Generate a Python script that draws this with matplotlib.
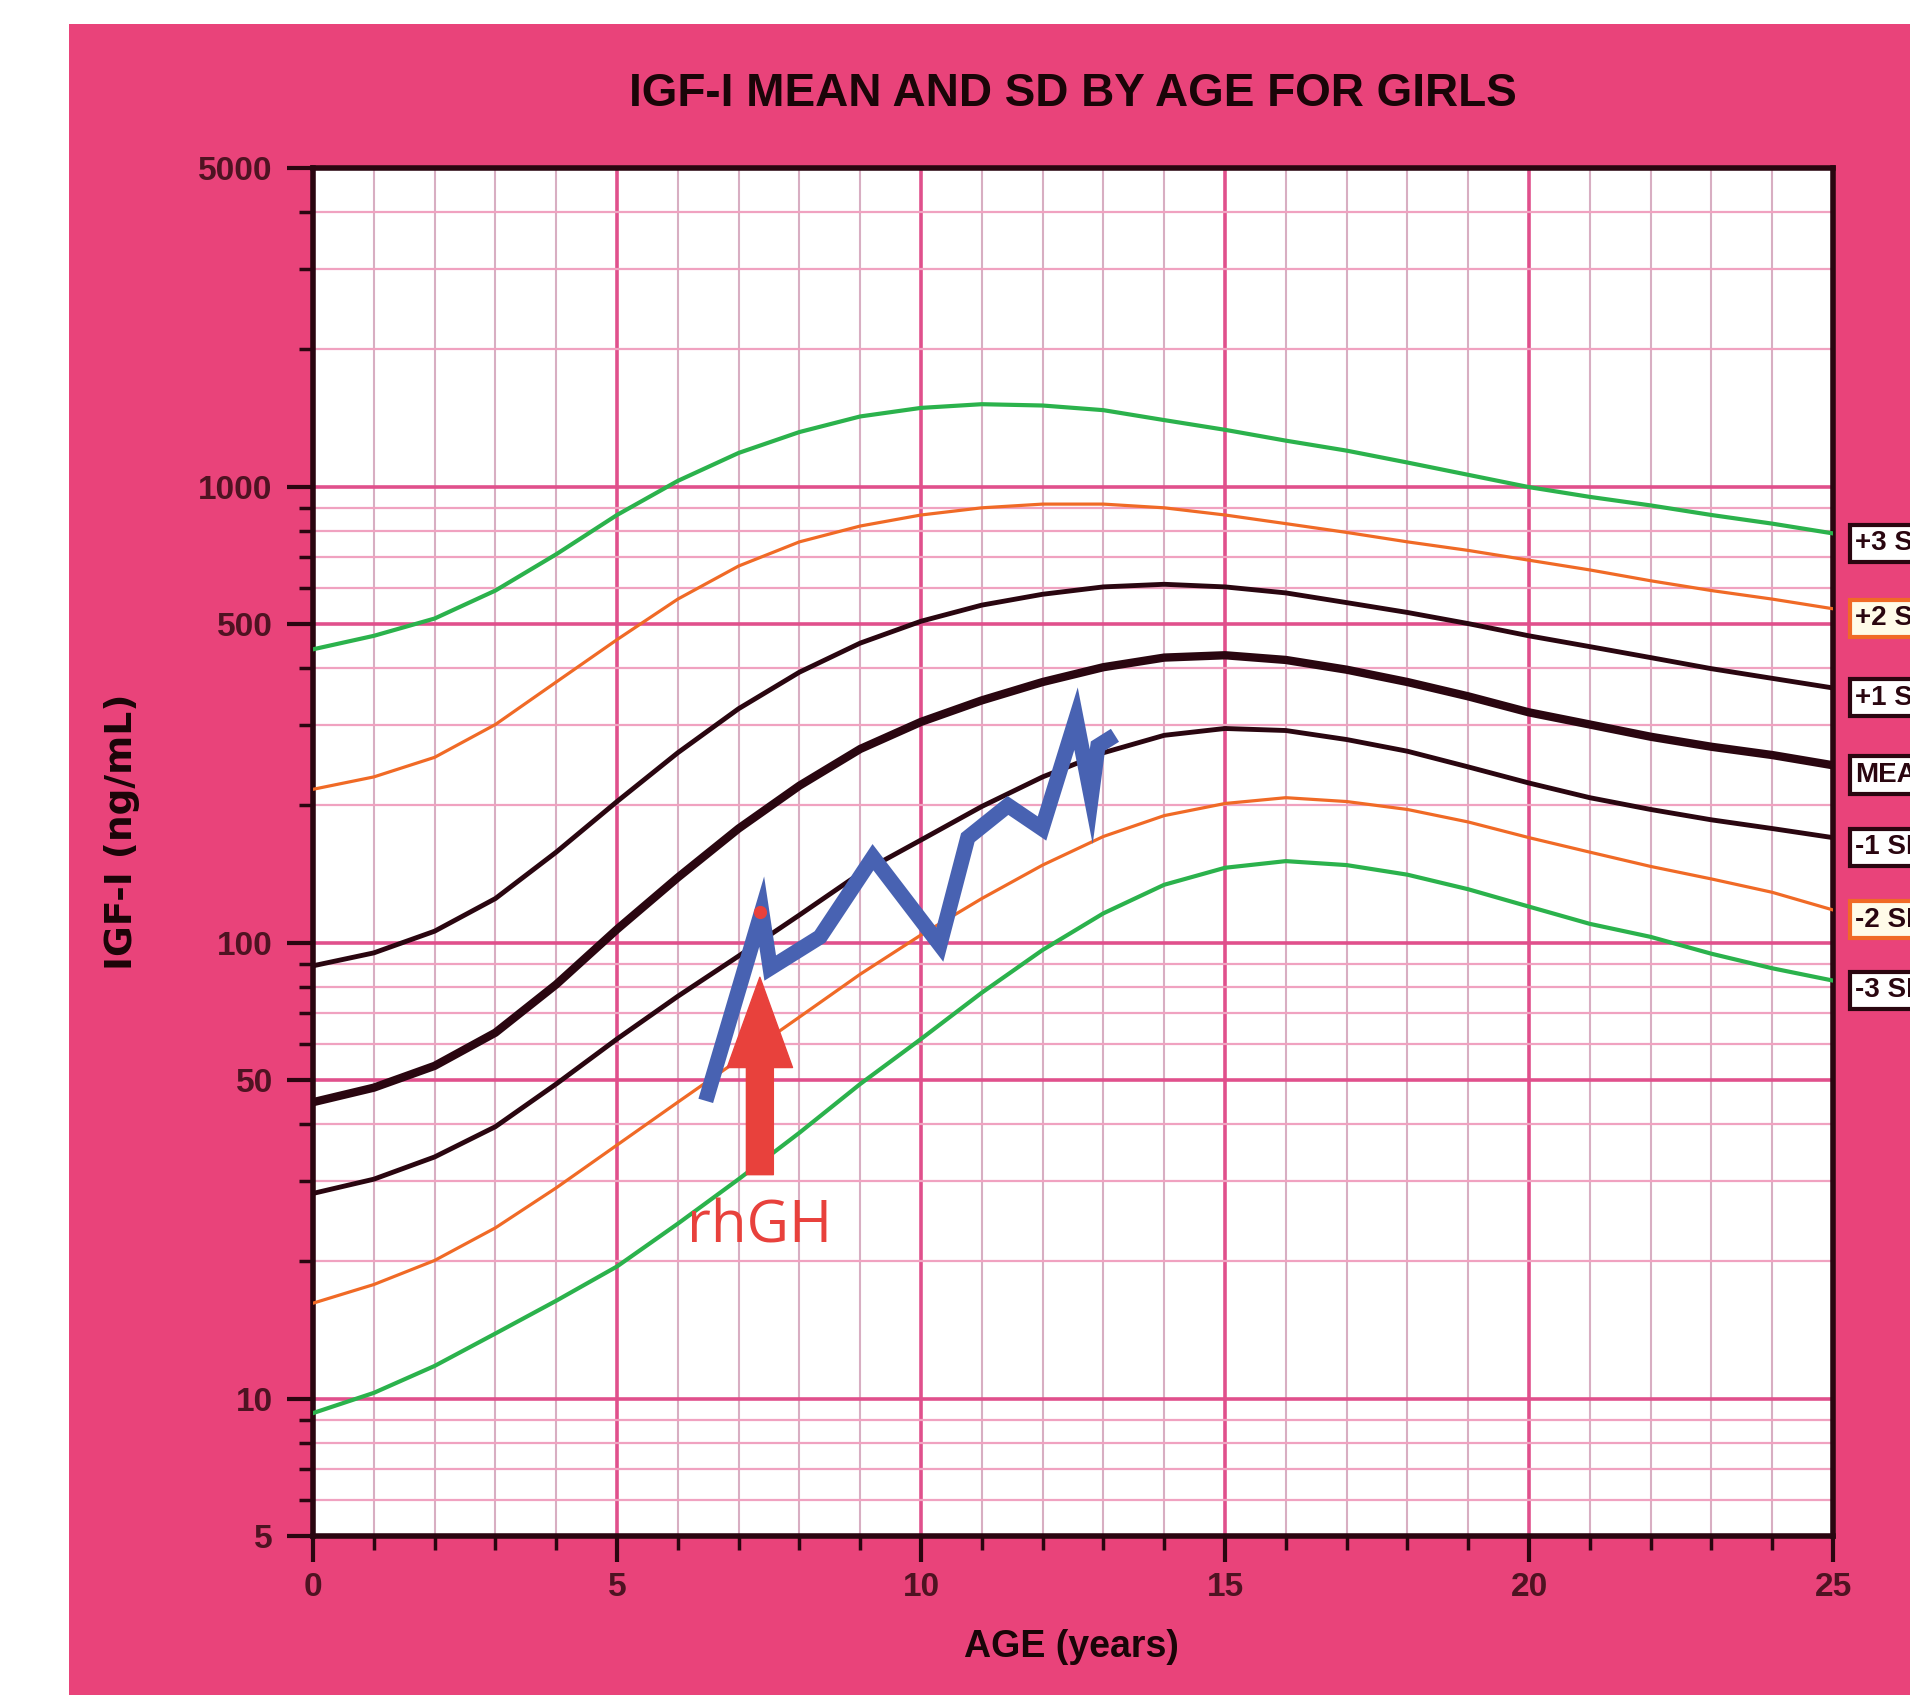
import numpy as np
import matplotlib.pyplot as plt

# reference curves (IGF-I ng/mL by age in years)
ages = np.arange(0, 26)
sd_p3 = [440, 471, 514, 592, 711, 867, 1030, 1186, 1318, 1426, 1489, 1517, 1507,
         1472, 1400, 1333, 1262, 1200, 1130, 1062, 998, 950, 910, 867, 830, 790]
sd_p2 = [217, 231, 255, 301, 373, 462, 567, 670, 757, 820, 867, 899, 916,
         916, 899, 867, 830, 794, 757, 725, 690, 657, 622, 592, 567, 540]
sd_p1 = [89, 95, 106, 125, 158, 204, 261, 326, 392, 454, 507, 550, 581,
         603, 611, 603, 585, 557, 530, 501, 471, 446, 422, 399, 380, 362]
mean = [44.7, 48.1, 53.7, 63.5, 81, 107, 139, 178, 221, 266, 305, 340, 373,
        402, 422, 427, 417, 397, 373, 347, 320, 301, 283, 269, 258, 245]
sd_m1 = [28.2, 30.3, 33.9, 39.5, 49.0, 61.5, 76.3, 93.5, 115, 142, 168, 199, 231,
         261, 285, 295, 292, 279, 263, 243, 224, 208, 196, 186, 178, 170]
sd_m2 = [16.2, 17.8, 20.1, 23.7, 29.0, 36.0, 44.7, 55.4, 68.7, 85.3, 104, 125, 148,
         171, 190, 202, 208, 204, 196, 184, 170, 158, 147, 138, 129, 118]
sd_m3 = [9.3, 10.3, 11.8, 13.9, 16.4, 19.5, 24.2, 30.3, 38.3, 49.0, 61.5, 77.7, 96.4,
         116, 134, 146, 151, 148, 141, 131, 120, 110, 103, 94.6, 87.9, 82.6]
curve_labels = ['+3 SD', '+2 SD', '+1 SD', 'MEAN', '-1 SD', '-2 SD', '-3 SD']

# patient values
pt_age = [6.46, 7.38, 7.52, 8.34, 9.21, 10.31, 10.77, 11.43, 11.99, 12.55, 12.80, 12.91, 13.19]
pt_igf = [45, 117, 88, 103, 154, 99, 170, 200, 178, 310, 209, 270, 285]
rhgh_age = 7.35
rhgh_igf = 117
arrow_from, arrow_to = 31, 84
rhgh_text_igf = 23.8

yticks = [5, 10, 50, 100, 500, 1000, 5000]
xticks = [0, 5, 10, 15, 20, 25]

pink = '#e9437a'
dark = '#2a0610'
lbl = '#4e1322'
green = '#2bb24c'
orange = '#f06a26'
blue = '#4862b2'
red = '#e8413c'

fig = plt.figure(figsize=(19.1, 16.95), dpi=100)
fig.patch.set_facecolor('white')

# pink card behind everything
bg = fig.add_axes([69 / 1910, 0, 1 - 69 / 1910, 1 - 24 / 1695], zorder=-5)
bg.set_facecolor(pink)
bg.set_xticks([])
bg.set_yticks([])
for sp in bg.spines.values():
    sp.set_visible(False)

ax = fig.add_axes([313 / 1910, 1 - 1536 / 1695, 1520 / 1910, 1368 / 1695], zorder=1)
ax.set_facecolor('white')
ax.set_yscale('log')
ax.set_xlim(0, 25)
ax.set_ylim(5, 5000)

# grid
ax.set_xticks(xticks)
ax.set_xticks(np.arange(0, 26), minor=True)
ax.set_yticks(yticks)
ax.set_yticklabels([str(v) for v in yticks])
minor_y = [v * d for d in (1, 10, 100, 1000) for v in range(2, 10) if 5 <= v * d <= 5000 and v * d not in yticks]
ax.set_yticks(minor_y, minor=True)
ax.yaxis.set_minor_formatter(plt.NullFormatter())
ax.set_axisbelow(True)
ax.grid(which='major', color='#e0508c', lw=2.6)
ax.grid(which='minor', axis='y', color='#f0a2c0', lw=1.6)
ax.grid(which='minor', axis='x', color='#d8aec2', lw=1.5)

# curves
styles = [(green, 3.0), (orange, 2.3), (dark, 3.5), (dark, 6.0), (dark, 3.5), (orange, 2.3), (green, 3.0)]
curves = [sd_p3, sd_p2, sd_p1, mean, sd_m1, sd_m2, sd_m3]
for vals, (c, lw) in zip(curves, styles):
    ax.plot(ages, vals, color=c, lw=lw, zorder=3, solid_joinstyle='round')

# labels at the right edge (cut by the page edge, as in the scan)
for vals, (c, lw), name in zip(curves, styles, curve_labels):
    ec = orange if c == orange else dark
    fc = '#fffbe8' if c == orange else 'white'
    ax.annotate(name, xy=(25, vals[-1]), xytext=(16, -7), textcoords='offset points',
                ha='left', va='center', fontsize=20, fontweight='bold', color=dark,
                family='Liberation Sans', annotation_clip=False,
                bbox=dict(boxstyle='square,pad=0.2', fc=fc, ec=ec, lw=3))

# patient curve, rhGH start
ax.plot(pt_age, pt_igf, color=blue, lw=11, solid_joinstyle='miter',
        solid_capstyle='butt', zorder=5)
ax.annotate('', xy=(rhgh_age, arrow_to), xytext=(rhgh_age, arrow_from),
            arrowprops=dict(arrowstyle='simple,head_length=65,head_width=47,tail_width=19.4',
                            mutation_scale=1, color=red, shrinkA=0, shrinkB=0), zorder=6)
ax.plot([rhgh_age], [rhgh_igf], 'o', color=red, ms=8.5, zorder=6)
ax.text(rhgh_age, rhgh_text_igf, 'rhGH', color=red, fontsize=42, family='Open Sans',
        ha='center', va='center', zorder=6)

# axes styling
for sp in ax.spines.values():
    sp.set_linewidth(4)
    sp.set_color(dark)
ax.tick_params(which='major', length=19, width=3, color=dark, pad=10,
               labelsize=24, labelcolor=lbl)
ax.tick_params(axis='x', which='major', pad=7)
ax.tick_params(which='minor', length=10, width=2.5, color=dark)
for t in ax.get_xticklabels() + ax.get_yticklabels():
    t.set_fontfamily('Liberation Sans')
    t.set_fontweight('bold')

fig.text(1073 / 1910, 1 - 94 / 1695, 'IGF-I MEAN AND SD BY AGE FOR GIRLS', ha='center', va='center',
         fontsize=33, fontweight='bold', family='Liberation Sans', color='#1a0508')
fig.text(1071 / 1910, 1 - 1647 / 1695, 'AGE (years)', ha='center', va='center',
         fontsize=27, fontweight='bold', family='Liberation Sans', color='#1a0508')
fig.text(122 / 1910, 1 - 832 / 1695, 'IGF-I (ng/mL)', ha='center', va='center', rotation=90,
         fontsize=27, fontweight='bold', family='DejaVu Sans', color='#1a0508')

fig.savefig('out.png', dpi=100)
